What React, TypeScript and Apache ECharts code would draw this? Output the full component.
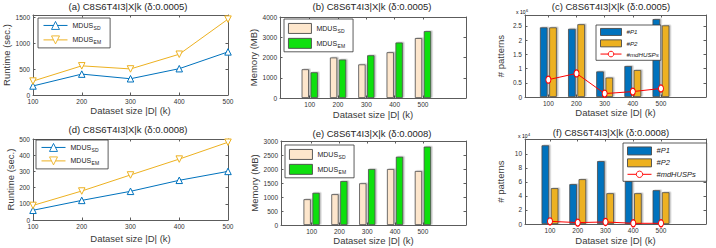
import React, { useEffect, useRef } from 'react';
import * as echarts from 'echarts';

// ---------- data ----------
const sizes = [100, 200, 300, 400, 500];

// (a) runtime, δ = 0.0005
const runtimeSD_a = [175, 405, 315, 510, 835];
const runtimeEM_a = [270, 565, 505, 790, 1470];
// (b) memory, δ = 0.0005
const memorySD_b = [1420, 2000, 1660, 2260, 2960];
const memoryEM_b = [1270, 1900, 2110, 2740, 3300];
// (c) patterns, δ = 0.0005
const p1_c = [2450000, 2400000, 900000, 1090000, 2740000];
const p2_c = [2450000, 2560000, 685000, 950000, 2520000];
const md_c = [610000, 830000, 120000, 190000, 300000];
// (d) runtime, δ = 0.0008
const runtimeSD_d = [60, 121, 177, 245, 300];
const runtimeEM_d = [90, 179, 278, 376, 480];
// (e) memory, δ = 0.0008
const memorySD_e = [920, 1100, 1490, 2000, 1930];
const memoryEM_e = [1150, 1570, 2000, 2440, 2800];
// (f) patterns, δ = 0.0008
const p1_f = [112000, 56700, 89500, 61000, 48100];
const p2_f = [51000, 63800, 43800, 43800, 45200];
const md_f = [3800, 2000, 2900, 1000, 1000];

// tick labels
const runtimeTicksA = [0, 500, 1000, 1500];
const memoryTicksB = [0, 1000, 2000, 3000, 4000];
const patternTicksC = [0, 500000, 1000000, 1500000, 2000000, 2500000];
const runtimeTicksD = [0, 100, 200, 300, 400, 500];
const memoryTicksE = [0, 500, 1000, 1500, 2000, 2500, 3000];
const patternTicksF = [0, 20000, 40000, 60000, 80000, 100000];

const titles = [
  '(a) C8S6T4I3|X|k (δ:0.0005)',
  '(b) C8S6T4I3|X|k (δ:0.0005)',
  '(c) C8S6T4I3|X|k (δ:0.0005)',
  '(d) C8S6T4I3|X|k (δ:0.0008)',
  '(e) C8S6T4I3|X|k (δ:0.0008)',
  '(f) C8S6T4I3|X|k (δ:0.0008)',
];
const xName = 'Dataset size |D| (k)';

// ---------- style ----------
const FONT = '"Liberation Sans", Arial, Helvetica, sans-serif';
const AXIS_COLOR = '#5c5c5c';
const LABEL_COLOR = '#333';
const NAME_COLOR = '#3a3a3a';
const BLUE = '#0072BD';
const GOLD = '#EDB120';
const BEIGE = '#FDE6CC';
const GREEN = '#10E010';
const RED = '#FF0000';

const zip = (xs: number[], ys: number[]) => xs.map((x, i) => [x, ys[i]]);

function axisPair(
  dim: 'x' | 'y', gridIndex: number, min: number, max: number, ticks: number[],
  formatter: any, name: string, nameGap: number
) {
  const base: any = {
    type: 'value', gridIndex, min, max,
    axisLine: { show: true, onZero: false, lineStyle: { color: AXIS_COLOR, width: 1 } },
    axisTick: { show: true, inside: true, length: 2.5, customValues: ticks, lineStyle: { color: AXIS_COLOR, width: 1 } },
    splitLine: { show: false },
  };
  const primary = {
    ...base,
    position: dim === 'x' ? 'bottom' : 'left',
    axisLabel: { show: true, customValues: ticks, formatter, fontSize: 6.5, color: LABEL_COLOR, margin: 3, fontFamily: FONT },
    name, nameLocation: 'middle', nameGap,
    nameTextStyle: { fontSize: 9.5, color: NAME_COLOR, fontWeight: 'normal', fontFamily: FONT },
  };
  const secondary = { ...base, position: dim === 'x' ? 'top' : 'right', axisLabel: { show: false }, name: '' };
  return [primary, secondary];
}

const grids = [
  { left: 33, top: 15, width: 195, height: 80 },
  { left: 280, top: 17, width: 186, height: 81 },
  { left: 525, top: 15, width: 181, height: 82 },
  { left: 33, top: 139, width: 195, height: 81 },
  { left: 281, top: 141, width: 185, height: 84 },
  { left: 525, top: 139, width: 181, height: 85 },
];

const titlePos = [
  [128, 1.5], [372, 1.5], [611, 1.5], [128, 124.5], [372, 128.5], [611, 127],
];

const legendText: Record<string, string> = {
  a_sd: '{m|MDUS}{s|SD}', a_em: '{m|MDUS}{s|EM}',
  b_sd: '{m|MDUS}{s|SD}', b_em: '{m|MDUS}{s|EM}',
  d_sd: '{m|MDUS}{s|SD}', d_em: '{m|MDUS}{s|EM}',
  e_sd: '{m|MDUS}{s|SD}', e_em: '{m|MDUS}{s|EM}',
  c_p1: '#P1', c_p2: '#P2', c_md: '#mdHUSPs',
  f_p1: '#P1', f_p2: '#P2', f_md: '#mdHUSPs',
};

const subRich = {
  m: { fontSize: 7, color: '#222', fontFamily: FONT },
  s: { fontSize: 5, color: '#222', fontFamily: FONT, padding: [5, 0, 0, 0.5] },
};

function buildOption() {
  const fmtInt = (v: number) => String(v);
  const fmtM = (v: number) => String(+(v / 1e6).toFixed(1));
  const fmtT = (v: number) => String(+(v / 1e4).toFixed(1));

  const xAxis: any[] = [];
  const yAxis: any[] = [];
  // (a)
  xAxis.push(...axisPair('x', 0, 100, 500, sizes, fmtInt, xName, 8));
  yAxis.push(...axisPair('y', 0, 0, 1550, runtimeTicksA, fmtInt, 'Runtime (sec.)', 16));
  // (b)
  xAxis.push(...axisPair('x', 1, -5, 652, sizes, fmtInt, xName, 11));
  yAxis.push(...axisPair('y', 1, 0, 4000, memoryTicksB, fmtInt, 'Memory (MB)', 18));
  // (c)
  xAxis.push(...axisPair('x', 2, 17, 660, sizes, fmtInt, xName, 9));
  yAxis.push(...axisPair('y', 2, 0, 2885000, patternTicksC, fmtM, '# patterns', 20));
  // (d)
  xAxis.push(...axisPair('x', 3, 100, 500, sizes, fmtInt, xName, 13));
  yAxis.push(...axisPair('y', 3, 0, 500, runtimeTicksD, fmtInt, 'Runtime (sec.)', 16));
  // (e)
  xAxis.push(...axisPair('x', 4, -10, 655, sizes, fmtInt, xName, 10));
  yAxis.push(...axisPair('y', 4, 0, 3000, memoryTicksE, fmtInt, 'Memory (MB)', 18));
  // (f)
  xAxis.push(...axisPair('x', 5, 10, 662, sizes, fmtInt, xName, 11));
  yAxis.push(...axisPair('y', 5, 0, 121000, patternTicksF, fmtT, '# patterns', 20));

  const lineSeries = (name: string, g: number, ys: number[], color: string, down: boolean) => ({
    type: 'line', name, xAxisIndex: 2 * g, yAxisIndex: 2 * g, data: zip(sizes, ys),
    symbol: 'triangle', symbolRotate: down ? 180 : 0, symbolSize: 6.5,
    color, lineStyle: { width: 1, color },
    itemStyle: { color: '#fff', borderColor: color, borderWidth: 1 },
  });
  const barSeries = (name: string, g: number, ys: number[], color: string, w: number) => ({
    type: 'bar', name, xAxisIndex: 2 * g, yAxisIndex: 2 * g, data: zip(sizes, ys),
    barWidth: w, barGap: '22%', color,
    itemStyle: {
      color, borderColor: '#4a4a4a', borderWidth: 0.8,
      shadowColor: 'rgba(0,0,0,0.25)', shadowOffsetX: 1.5, shadowOffsetY: -0.5, shadowBlur: 0,
    },
  });
  const mdSeries = (name: string, g: number, ys: number[]) => ({
    type: 'line', name, xAxisIndex: 2 * g, yAxisIndex: 2 * g, data: zip(sizes, ys),
    symbol: 'circle', symbolSize: [5, 7], color: RED, z: 5,
    lineStyle: { width: 1, color: RED },
    itemStyle: { color: '#fff', borderColor: RED, borderWidth: 1.1 },
  });

  const series: any[] = [
    lineSeries('a_sd', 0, runtimeSD_a, BLUE, false),
    lineSeries('a_em', 0, runtimeEM_a, GOLD, true),
    barSeries('b_sd', 1, memorySD_b, BEIGE, 7.3),
    barSeries('b_em', 1, memoryEM_b, GREEN, 7.3),
    barSeries('c_p1', 2, p1_c, BLUE, 7.6),
    barSeries('c_p2', 2, p2_c, GOLD, 7.6),
    mdSeries('c_md', 2, md_c),
    lineSeries('d_sd', 3, runtimeSD_d, BLUE, false),
    lineSeries('d_em', 3, runtimeEM_d, GOLD, true),
    barSeries('e_sd', 4, memorySD_e, BEIGE, 7.3),
    barSeries('e_em', 4, memoryEM_e, GREEN, 7.3),
    barSeries('f_p1', 5, p1_f, BLUE, 7.6),
    barSeries('f_p2', 5, p2_f, GOLD, 7.6),
    mdSeries('f_md', 5, md_f),
  ];

  const legendBase = {
    orient: 'vertical', borderColor: '#333', borderWidth: 0.8, backgroundColor: '#fff',
    selectedMode: false, formatter: (n: string) => legendText[n] || n,
    itemStyle: { borderWidth: 0.9 }, lineStyle: { width: 1 },
  };
  const legend: any[] = [
    { ...legendBase, left: 38, top: 18, padding: [3, 9, 3, 5], itemWidth: 24, itemHeight: 10, itemGap: 5, itemTextGap: 3,
      data: ['a_sd', 'a_em'], textStyle: { rich: subRich } },
    { ...legendBase, left: 284, top: 19, padding: [4, 8, 3, 4], itemWidth: 23, itemHeight: 10, itemGap: 4, itemTextGap: 2.5,
      data: [{ name: 'b_sd', icon: 'rect' }, { name: 'b_em', icon: 'rect' }], textStyle: { rich: subRich } },
    { ...legendBase, left: 596, top: 25, padding: [3, 2, 3, 4], itemWidth: 21, itemHeight: 7, itemGap: 3.5, itemTextGap: 3,
      data: [{ name: 'c_p1', icon: 'rect' }, { name: 'c_p2', icon: 'rect' }, { name: 'c_md' }],
      textStyle: { fontSize: 6.2, fontStyle: 'italic', color: '#222', fontFamily: FONT } },
    { ...legendBase, left: 36, top: 140, padding: [3, 9, 3, 5], itemWidth: 24, itemHeight: 10, itemGap: 4, itemTextGap: 3,
      data: ['d_sd', 'd_em'], textStyle: { rich: subRich } },
    { ...legendBase, left: 285, top: 145, padding: [4, 8, 3, 4], itemWidth: 23, itemHeight: 10, itemGap: 4, itemTextGap: 2.5,
      data: [{ name: 'e_sd', icon: 'rect' }, { name: 'e_em', icon: 'rect' }], textStyle: { rich: subRich } },
    { ...legendBase, left: 623, top: 143, padding: [3.5, 11, 3, 4], itemWidth: 24, itemHeight: 8, itemGap: 3, itemTextGap: 3,
      data: [{ name: 'f_p1', icon: 'rect' }, { name: 'f_p2', icon: 'rect' }, { name: 'f_md' }],
      textStyle: { fontSize: 7.5, fontStyle: 'italic', color: '#222', fontFamily: FONT } },
  ];

  const title = titles.map((t, i) => ({
    text: t, left: titlePos[i][0], top: titlePos[i][1], textAlign: 'center', padding: 0,
    textStyle: { fontSize: 9.5, fontWeight: 'normal', color: '#262626', fontFamily: FONT },
  }));

  const expRich = {
    a: { fontSize: 5, color: '#333', fontFamily: FONT },
    b: { fontSize: 3.8, color: '#333', fontFamily: FONT, padding: [0, 0, 3, 0.5] },
  };
  const graphic = [
    { type: 'text', left: 516, top: 8.5, style: { text: '{a|x 10}{b|6}', rich: expRich } },
    { type: 'text', left: 518, top: 132.5, style: { text: '{a|x 10}{b|4}', rich: expRich } },
  ];

  return {
    animation: false,
    backgroundColor: '#fff',
    textStyle: { fontFamily: FONT },
    title,
    grid: grids.map(g => ({ ...g, containLabel: false })),
    xAxis, yAxis, series, legend, graphic,
  };
}

export default function App() {
  const ref = useRef<HTMLDivElement>(null);
  useEffect(() => {
    if (!ref.current) return;
    const chart = echarts.init(ref.current, undefined, { renderer: 'svg' });
    chart.setOption(buildOption() as any);
    return () => chart.dispose();
  }, []);
  return (
    <div
      ref={ref}
      style={{ position: 'fixed', left: 0, top: 0, width: 716, height: 248, background: '#fff' }}
    />
  );
}
